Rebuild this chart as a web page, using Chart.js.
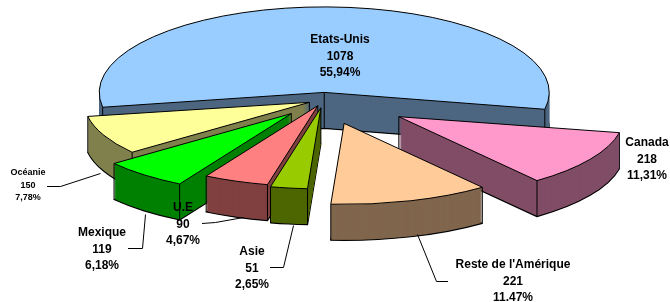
<!DOCTYPE html>
<html>
<head>
<meta charset="utf-8">
<script src="https://cdn.jsdelivr.net/npm/chart.js@4"></script>
<style>
  html, body { margin: 0; padding: 0; background: #fff; }
  #wrap { width: 670px; height: 302px; }
</style>
</head>
<body>
<div id="wrap"><canvas id="exportChart"></canvas></div>
<script>
// data
const regions = ['Etats-Unis', 'Canada', "Reste de l'Amérique", 'Asie', 'U.E', 'Mexique', 'Océanie'];
const amounts = [1078, 218, 221, 51, 90, 119, 150];
const shares = ['55,94%', '11,31%', '11.47%', '2,65%', '4,67%', '6,18%', '7,78%'];

// look
const topColors = ['#99CCFF', '#FF99CC', '#FFCC99', '#99CC00', '#FF8080', '#00FF00', '#FFFF99'];
const sideColors = ['#4D6680', '#804D66', '#80664D', '#4D6600', '#804040', '#008000', '#80804D'];
const explode = [20, 88, 68, 22, 17, 50, 16];
const tilts = [0.38, 0.36, 0.36, 0.36, 0.36, 0.36, 0.36];
const depth = 36;

// label anchors (x, first line y, font size) and leader lines
const labelSpots = [
  { x: 340, y: 40, size: 12, lead: null },
  { x: 647, y: 143, size: 12, lead: null },
  { x: 513, y: 265, size: 12, lead: [[448, 281], [436, 281], [417, 234]] },
  { x: 252, y: 252, size: 12, lead: [[270, 267], [283, 267], [293, 225]] },
  { x: 183, y: 208, size: 12, lead: [[202, 223], [215, 222], [243, 217]] },
  { x: 102, y: 233, size: 12, lead: [[128, 248], [142, 248], [145, 214]] },
  { x: 28, y: 173, size: 9, lead: [[47, 186], [60, 186], [100, 173]] }
];

function midAngle(a) {
  return (a.startAngle + a.endAngle) / 2;
}

const pie3d = {
  id: 'pie3d',
  beforeDatasetsDraw(chart) {
    const ctx = chart.ctx;
    const arcs = chart.getDatasetMeta(0).data;
    const cx = arcs[0].x, cy = arcs[0].y;
    const Arc = arcs[0].constructor;
    const dpr = chart.currentDevicePixelRatio;

    // keep strokes 1px even inside the squashed transform
    const baseStroke = ctx.stroke;
    ctx.stroke = function () {
      this.save();
      this.setTransform(dpr, 0, 0, dpr, 0, 0);
      baseStroke.apply(this, arguments);
      this.restore();
    };

    const squash = (k) => {
      ctx.translate(cx, cy);
      ctx.scale(1, k);
      ctx.translate(-cx, -cy);
    };

    const order = arcs.map((a, i) => i)
      .sort((p, q) => Math.sin(midAngle(arcs[p])) - Math.sin(midAngle(arcs[q])));

    order.forEach(i => {
      const a = arcs[i];
      const k = tilts[i];
      const m = midAngle(a);
      const ox = Math.cos(m) * explode[i];
      const oy = Math.sin(m) * explode[i];
      const base = {
        borderAlign: 'center', borderRadius: 0, spacing: 0, offset: 0, circular: true,
        borderDash: [], borderDashOffset: 0, borderJoinStyle: 'round'
      };
      const shell = new Arc({
        x: a.x, y: a.y, startAngle: a.startAngle, endAngle: a.endAngle,
        circumference: a.circumference, innerRadius: 0, outerRadius: a.outerRadius,
        options: Object.assign({}, base, { backgroundColor: sideColors[i], borderColor: '#000', borderWidth: 1.2 })
      });

      // extruded side
      ctx.save();
      squash(k);
      ctx.translate(ox, oy);
      ctx.save();
      ctx.translate(0, depth / k);
      shell.draw(ctx);
      ctx.restore();
      shell.options = Object.assign({}, base, { backgroundColor: sideColors[i], borderColor: sideColors[i], borderWidth: 0 });
      for (let d = depth - 1; d > 0; d--) {
        ctx.save();
        ctx.translate(0, d / k);
        shell.draw(ctx);
        ctx.restore();
      }
      ctx.restore();

      // vertical edges at tip and outer corners
      const px = a.x + ox, py = a.y + oy;
      const corners = [
        [px, py],
        [px + Math.cos(a.startAngle) * a.outerRadius, py + Math.sin(a.startAngle) * a.outerRadius],
        [px + Math.cos(a.endAngle) * a.outerRadius, py + Math.sin(a.endAngle) * a.outerRadius]
      ];
      ctx.save();
      ctx.strokeStyle = '#000';
      ctx.lineWidth = 1;
      ctx.beginPath();
      corners.forEach(([x, y]) => {
        const sy = cy + (y - cy) * k;
        ctx.moveTo(x, sy);
        ctx.lineTo(x, sy + depth);
      });
      ctx.stroke();
      ctx.restore();

      // top face
      ctx.save();
      squash(k);
      ctx.translate(ox, oy);
      a.draw(ctx);
      ctx.restore();
    });

    delete ctx.stroke;
    return false;
  }
};

const sliceLabels = {
  id: 'sliceLabels',
  afterDraw(chart) {
    const ctx = chart.ctx;
    ctx.save();
    labelSpots.forEach((s, i) => {
      if (s.lead) {
        ctx.strokeStyle = '#000';
        ctx.lineWidth = 1;
        ctx.beginPath();
        ctx.moveTo(s.lead[0][0], s.lead[0][1] + 0.5);
        for (let j = 1; j < s.lead.length; j++) ctx.lineTo(s.lead[j][0] + 0.5, s.lead[j][1] + 0.5);
        ctx.stroke();
      }
      ctx.fillStyle = '#000';
      ctx.textAlign = 'center';
      ctx.textBaseline = 'middle';
      ctx.font = 'bold ' + s.size + 'px "Liberation Sans", Arial, sans-serif';
      const step = s.size * 1.35;
      [regions[i], String(amounts[i]), shares[i]].forEach((t, j) => {
        ctx.fillText(t, s.x, s.y + j * step);
      });
    });
    ctx.restore();
  }
};

new Chart(document.getElementById('exportChart'), {
  type: 'pie',
  data: {
    labels: regions,
    datasets: [{
      data: amounts,
      backgroundColor: topColors,
      borderColor: '#000',
      borderWidth: 1,
      radius: 225,
      clip: false
    }]
  },
  options: {
    responsive: true,
    maintainAspectRatio: false,
    animation: false,
    events: [],
    rotation: -100,
    layout: { padding: { left: 0, right: 22, top: 0, bottom: 102 } },
    plugins: {
      legend: { display: false },
      tooltip: { enabled: false }
    }
  },
  plugins: [pie3d, sliceLabels]
});
</script>
</body>
</html>
